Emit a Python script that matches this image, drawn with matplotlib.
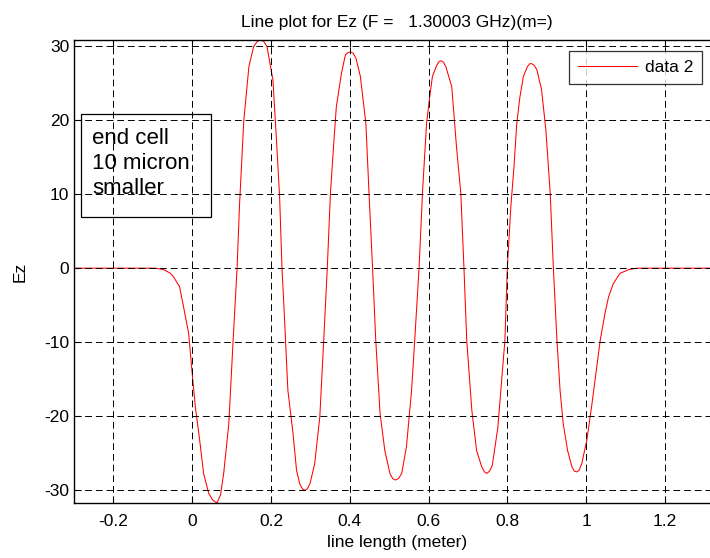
import matplotlib.pyplot as plt
from matplotlib.patches import Rectangle

plt.rcParams["font.family"] = ["Liberation Sans", "DejaVu Sans"]
plt.rcParams["axes.unicode_minus"] = False

# values (x in meter, Ez)
x_pos = [-0.30, -0.20, -0.12, -0.094, -0.072, -0.055, -0.047, -0.032, -0.022,
         -0.009, 0.000, 0.008, 0.019, 0.029, 0.042, 0.052, 0.063, 0.072,
         0.080, 0.093, 0.104, 0.114, 0.120, 0.131, 0.144, 0.156, 0.165,
         0.173, 0.182, 0.190, 0.205, 0.214, 0.222, 0.228, 0.233, 0.243,
         0.256, 0.265, 0.273, 0.280, 0.286, 0.292, 0.299, 0.311, 0.324,
         0.334, 0.343, 0.351, 0.360, 0.366, 0.379, 0.389, 0.396, 0.402,
         0.409, 0.416, 0.427, 0.441, 0.449, 0.458, 0.466, 0.477, 0.489,
         0.502, 0.509, 0.516, 0.524, 0.532, 0.544, 0.557, 0.565, 0.576,
         0.585, 0.595, 0.602, 0.610, 0.621, 0.627, 0.632, 0.638, 0.644,
         0.659, 0.671, 0.682, 0.690, 0.697, 0.710, 0.722, 0.735, 0.742,
         0.748, 0.755, 0.762, 0.776, 0.786, 0.794, 0.800, 0.809, 0.817,
         0.824, 0.832, 0.841, 0.851, 0.857, 0.862, 0.868, 0.875, 0.887,
         0.898, 0.909, 0.917, 0.926, 0.934, 0.942, 0.953, 0.964, 0.970,
         0.976, 0.982, 0.989, 1.002, 1.014, 1.025, 1.036, 1.048, 1.057,
         1.069, 1.086, 1.108, 1.129, 1.20, 1.34]
ez = [0.0, 0.0, 0.0, 0.0, -0.2, -0.7, -1.2, -2.5, -5.2,
      -8.8, -14.2, -18.7, -23.2, -27.7, -30.4, -31.3, -31.7, -30.6,
      -27.7, -21.0, -9.7, 0.0, 8.3, 19.9, 27.2, 29.9, 30.6,
      30.8, 30.6, 29.9, 25.4, 17.3, 9.6, 0.0, -5.2, -16.5,
      -22.3, -27.3, -29.1, -29.8, -30.0, -29.8, -29.1, -26.4, -20.1,
      -9.7, 0.0, 10.1, 17.3, 21.8, 26.3, 28.8, 29.1, 29.2,
      29.0, 28.3, 25.9, 19.5, 10.1, 0.0, -9.7, -19.6, -24.6,
      -27.7, -28.4, -28.6, -28.4, -27.7, -24.1, -16.5, -9.7, 0.0,
      10.5, 19.5, 22.7, 25.9, 27.4, 27.9, 28.0, 27.8, 27.2,
      24.5, 16.4, 10.1, 0.0, -9.7, -19.2, -24.6, -26.8, -27.5,
      -27.7, -27.4, -26.6, -21.5, -15.0, -9.7, 0.0, 8.3, 13.7,
      19.5, 23.1, 25.9, 27.2, 27.6, 27.6, 27.4, 26.8, 24.1,
      18.6, 10.1, 0.0, -9.7, -16.5, -21.0, -24.6, -26.8, -27.4,
      -27.5, -27.3, -26.4, -23.2, -18.7, -14.2, -9.7, -6.1, -3.9,
      -2.1, -0.7, -0.2, 0.0, 0.0, 0.0]

x_ticks = [-0.2, 0, 0.2, 0.4, 0.6, 0.8, 1, 1.2]
x_ticklabels = ["-0.2", "0", "0.2", "0.4", "0.6", "0.8", "1", "1.2"]
y_ticks = [-30, -20, -10, 0, 10, 20, 30]
note_lines = ["end cell", "10 micron", "smaller"]

W, H = 710, 558
fig = plt.figure(figsize=(W / 100, H / 100), dpi=100)

# axes box runs a little past the right edge of the picture
left, right, top, bottom = 74, 720, 40, 503
ax = fig.add_axes([left / W, 1 - bottom / H, (right - left) / W, (bottom - top) / H])

ax.plot(x_pos, ez, color="red", lw=0.75, label="data 2", zorder=2)

# axis tight, like the original
ax.set_xlim(min(x_pos), max(x_pos))
ax.set_ylim(min(ez), max(ez))
ax.set_xticks(x_ticks)
ax.set_xticklabels(x_ticklabels)
ax.set_yticks(y_ticks)

ax.grid(True, color="black", linestyle=(0, (7, 4)), linewidth=0.7)
ax.set_axisbelow(False)
ax.tick_params(direction="in", top=True, right=True, length=5,
               labelsize=12.5, width=0.8)
ax.tick_params(axis="x", pad=8)
ax.tick_params(axis="y", pad=3.5)
for s in ax.spines.values():
    s.set_linewidth(1.0)

ax.set_xlabel("line length (meter)", fontsize=12.5, labelpad=4)
ax.set_ylabel("Ez", fontsize=12.5, labelpad=12)
ax.set_title("Line plot for Ez (F =   1.30003 GHz)(m=)", fontsize=12.5, pad=9)

leg = ax.legend(loc="upper left", bbox_to_anchor=(569 / W, 1 - 51 / H),
                bbox_transform=fig.transFigure, fontsize=12.5,
                frameon=True, fancybox=False, edgecolor="black",
                handlelength=3.4, handletextpad=0.5, borderpad=0.5,
                borderaxespad=0)
leg.get_frame().set_linewidth(0.9)

# note box in the upper left
box = Rectangle((81 / W, 1 - 217 / H), 130 / W, 103 / H, transform=fig.transFigure,
                facecolor="none", edgecolor="black", lw=0.9, zorder=5)
fig.patches.append(box)
for i, line in enumerate(note_lines):
    fig.text(92 / W, 1 - (138 + 25.5 * i) / H, line, fontsize=16,
             va="center", ha="left")

fig.savefig("out.png", dpi=100)
